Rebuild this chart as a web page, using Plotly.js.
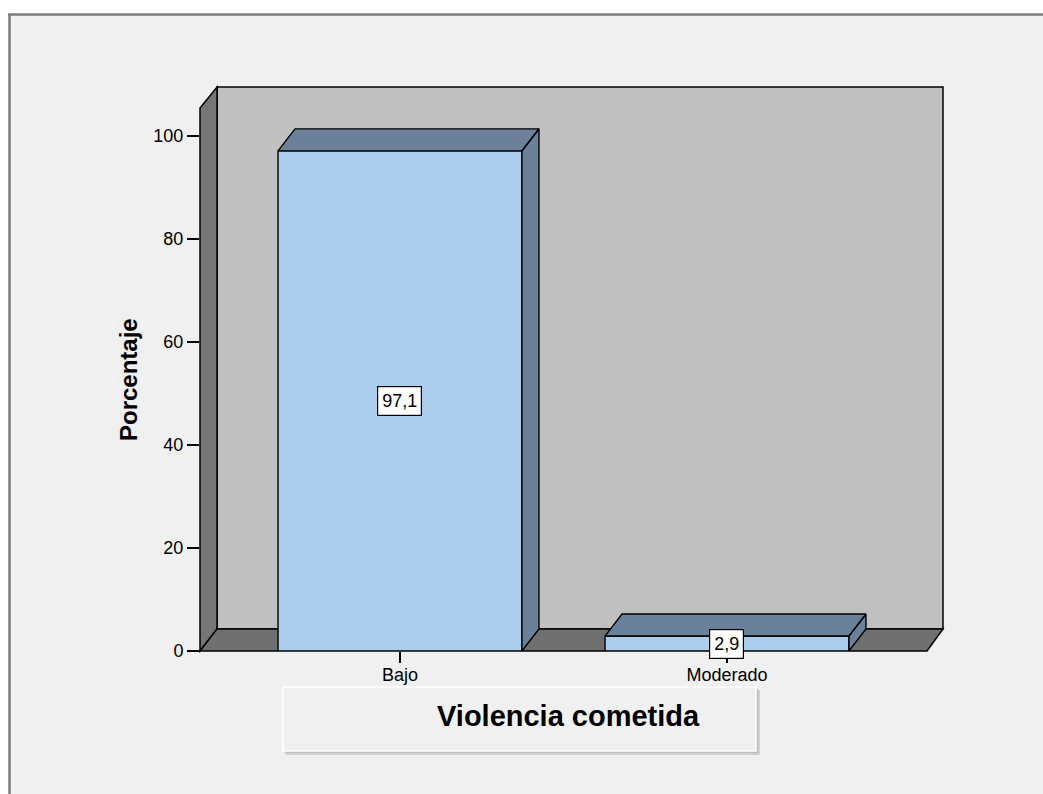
<!DOCTYPE html>
<html>
<head>
<meta charset="utf-8">
<script src="https://cdn.plot.ly/plotly-3.0.1.min.js"></script>
<style>html,body{margin:0;padding:0;background:#fff;}#chart{width:1043px;height:794px;}</style>
</head>
<body>
<div id="chart"></div>
<script>
// ---- data ----
const categories = ["Bajo", "Moderado"];
const percentages = [97.1, 2.9];
const yTickVals = [0, 20, 40, 60, 80, 100];
const yTickText = ["0", "20", "40", "60", "80", "100"];
const xTitle = "Violencia cometida";
const yTitle = "Porcentaje";

// ---- layout constants (pixels) ----
const W = 1043, H = 794;
const PL = 200, PR = 943, PT = 87, PB = 651;
const XR = [-0.6116, 1.6606], YR = [0, 109.5];
const DEPTH_X = 17, DEPTH_Y = 22;
const BW = 0.746;
const pxPerX = (PR - PL) / (XR[1] - XR[0]);
const pxPerY = (PB - PT) / (YR[1] - YR[0]);
const DX = DEPTH_X / pxPerX, DY = DEPTH_Y / pxPerY;
const px = v => (v - PL) / (PR - PL);
const py = v => (PB - v) / (PB - PT);
const FONT = "Liberation Sans, Arial, sans-serif";

const xIdx = categories.map((c, i) => i);

// faces for 3D look (computed from data)
const fx = [], fy = [];
percentages.forEach((v, i) => {
  const x0 = xIdx[i] - BW / 2, x1 = xIdx[i] + BW / 2;
  fx.push(x0, x1, x1 + DX, x0 + DX, x0, null);
  fy.push(v, v, v + DY, v + DY, v, null);
  fx.push(x1, x1 + DX, x1 + DX, x1, x1, null);
  fy.push(0, DY, v + DY, v, 0, null);
});

const traces = [
  {
    type: "bar", x: xIdx, y: percentages, width: BW,
    marker: {color: "#ABCEEC", line: {color: "#000", width: 1.4}},
    hoverinfo: "skip", cliponaxis: false
  },
  {
    type: "scatter", mode: "lines", x: fx, y: fy, fill: "toself",
    fillcolor: "#6A8199", line: {color: "#000", width: 1.4},
    hoverinfo: "skip", cliponaxis: false, connectgaps: false
  }
];

const pth = pts => "M " + pts.map(p => px(p[0]) + " " + py(p[1])).join(" L ") + " Z";
const shapes = [
  // white outside area and frame
  {type: "rect", xref: "paper", yref: "paper", x0: px(0), x1: px(W), y0: py(0), y1: py(14), fillcolor: "#fff", line: {width: 0}, layer: "below"},
  {type: "rect", xref: "paper", yref: "paper", x0: px(0), x1: px(9), y0: py(0), y1: py(H), fillcolor: "#fff", line: {width: 0}, layer: "below"},
  {type: "line", xref: "paper", yref: "paper", x0: px(8), x1: px(W), y0: py(14.5), y1: py(14.5), line: {color: "#7d7d7d", width: 2.5}, layer: "below"},
  {type: "line", xref: "paper", yref: "paper", x0: px(9.5), x1: px(9.5), y0: py(14), y1: py(H), line: {color: "#7d7d7d", width: 2.5}, layer: "below"},
  // back wall
  {type: "rect", xref: "paper", yref: "paper", x0: px(PL + DEPTH_X), x1: px(PR), y0: py(PT), y1: py(PB - DEPTH_Y), fillcolor: "#C0C0C0", line: {color: "#000", width: 1.5}, layer: "below"},
  // left wall
  {type: "path", xref: "paper", yref: "paper", path: pth([[PL, PB], [PL, PT + 21], [PL + DEPTH_X, PT], [PL + DEPTH_X, PB - DEPTH_Y]]), fillcolor: "#767676", line: {color: "#000", width: 1.5}, layer: "below"},
  // floor
  {type: "path", xref: "paper", yref: "paper", path: pth([[PL, PB], [PR - DEPTH_X + 1, PB], [PR, PB - DEPTH_Y], [PL + DEPTH_X, PB - DEPTH_Y]]), fillcolor: "#707070", line: {color: "#000", width: 1.5}, layer: "below"},
  // x title box shadow + box
  {type: "rect", xref: "paper", yref: "paper", x0: px(286), x1: px(760), y0: py(690), y1: py(755), fillcolor: "rgba(150,150,150,0.35)", line: {width: 0}, layer: "below"},
  {type: "rect", xref: "paper", yref: "paper", x0: px(284), x1: px(758), y0: py(688), y1: py(753), fillcolor: "rgba(150,150,150,0.35)", line: {width: 0}, layer: "below"},
  {type: "rect", xref: "paper", yref: "paper", x0: px(283), x1: px(756), y0: py(687), y1: py(751), fillcolor: "#F0F0F0", line: {color: "#ffffff", width: 1.5}, layer: "below"}
];

const fmt = v => v.toFixed(1).replace(".", ",");
const annotations = percentages.map((v, i) => ({
  x: xIdx[i], y: v / 2, xref: "x", yref: "y", text: fmt(v), showarrow: false,
  bgcolor: "#fff", bordercolor: "#000", borderwidth: 1.2, borderpad: 4,
  font: {family: FONT, size: 18, color: "#000"}
}));
annotations.push({
  xref: "paper", yref: "paper", x: px(568), y: py(716), text: "<b>" + xTitle + "</b>",
  showarrow: false, xanchor: "center", yanchor: "middle",
  font: {family: FONT, size: 29, color: "#000"}
});
annotations.push({
  xref: "paper", yref: "paper", x: px(129), y: py(380), text: "<b>" + yTitle + "</b>",
  showarrow: false, xanchor: "center", yanchor: "middle", textangle: -90,
  font: {family: FONT, size: 24, color: "#000"}
});

const layout = {
  width: W, height: H,
  margin: {l: PL, r: W - PR, t: PT, b: H - PB, pad: 0},
  paper_bgcolor: "#F0F0F0", plot_bgcolor: "rgba(0,0,0,0)",
  showlegend: false,
  font: {family: FONT, color: "#000"},
  xaxis: {
    range: XR, tickvals: xIdx, ticktext: categories, showgrid: false, zeroline: false,
    showline: false, ticks: "outside", ticklen: 11, tickwidth: 1.5, tickcolor: "#000",
    ticklabelstandoff: -4,
    tickfont: {family: FONT, size: 18, color: "#000"}, fixedrange: true
  },
  yaxis: {
    range: YR, tickvals: yTickVals, ticktext: yTickText, showgrid: false, zeroline: false,
    showline: false, ticks: "outside", ticklen: 12, tickwidth: 1.5, tickcolor: "#000",
    tickfont: {family: FONT, size: 18, color: "#000"}, fixedrange: true
  },
  shapes: shapes,
  annotations: annotations
};

Plotly.newPlot("chart", traces, layout, {displayModeBar: false, staticPlot: true});
</script>
</body>
</html>
